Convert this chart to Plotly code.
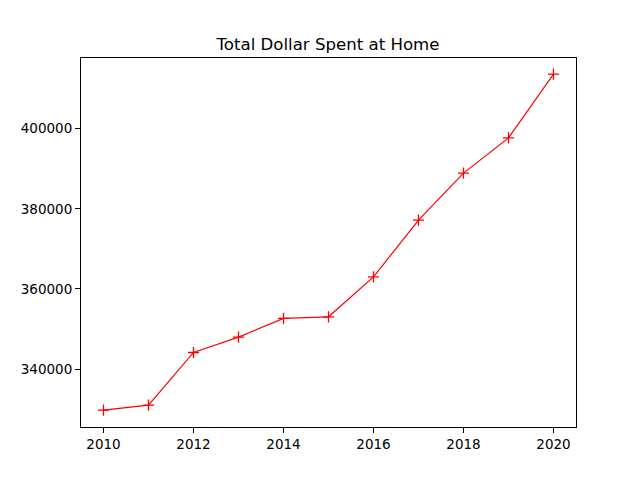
import plotly.graph_objects as go

years = [2010, 2011, 2012, 2013, 2014, 2015, 2016, 2017, 2018, 2019, 2020]
spent = [329770, 331010, 344160, 347990, 352650, 353060, 363000, 377170, 388900, 397670, 413560]

fig = go.Figure()
fig.add_trace(go.Scatter(
    x=years, y=spent, mode='lines+markers',
    line=dict(color='red', width=1.2),
    marker=dict(symbol='cross-thin', size=8, color='red', line=dict(color='red', width=1.3)),
))

axis_style = dict(showline=True, linecolor='black', linewidth=1, mirror=True,
                  ticks='outside', ticklen=5, tickcolor='black', showgrid=False, zeroline=False,
                  tickfont=dict(family='DejaVu Sans', size=13.5, color='black'))

fig.update_xaxes(range=[2009.5, 2020.5], tickvals=[2010, 2012, 2014, 2016, 2018, 2020], **axis_style)
fig.update_yaxes(range=[325575, 417600], tickvals=[340000, 360000, 380000, 400000],
                 tickformat='d', **axis_style)

# page body has an 8px margin, so the figure is shifted by 8px
fig.update_layout(
    width=640, height=480,
    title=dict(text='Total Dollar Spent at Home', x=0.5, xanchor='center', y=1 - 36 / 480, yanchor='middle',
               font=dict(family='DejaVu Sans', size=16.6, color='black')),
    margin=dict(l=73, r=72, t=50, b=61),
    plot_bgcolor='white', paper_bgcolor='white',
    showlegend=False,
)

fig.write_html('out.html')
